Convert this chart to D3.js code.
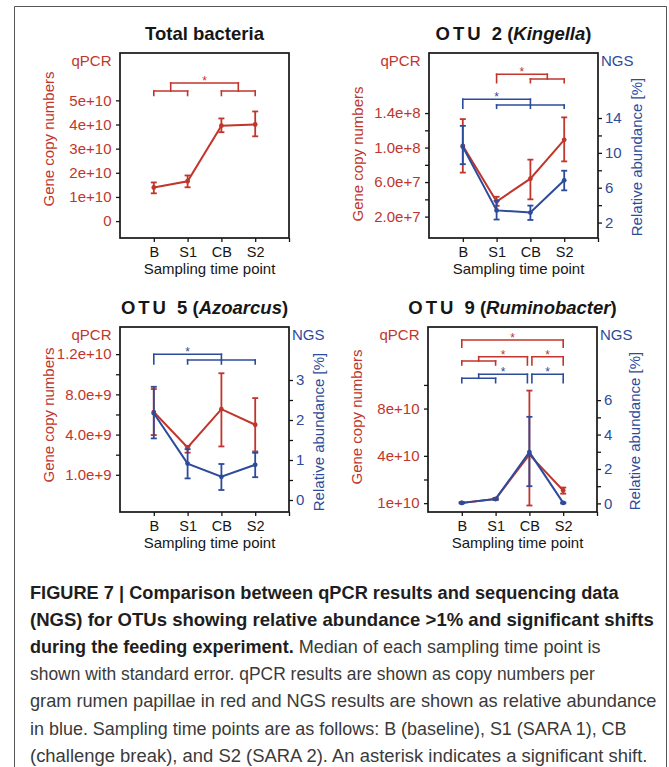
<!DOCTYPE html>
<html>
<head>
<meta charset="utf-8">
<script src="https://cdn.jsdelivr.net/npm/d3@7"></script>
<style>
  body { margin: 0; background: #fff; }
  svg { display: block; font-family: "Liberation Sans", Arial, sans-serif; }
</style>
</head>
<body>
<svg id="svg" width="669" height="767"></svg>
<script>
var timePoints = ["B", "S1", "CB", "S2"];

// Total bacteria (qPCR only)
var totalQpcr     = [1.39e10, 1.65e10, 3.95e10, 4.00e10];
var totalQpcrLow  = [1.15e10, 1.40e10, 3.68e10, 3.51e10];
var totalQpcrHigh = [1.60e10, 1.89e10, 4.25e10, 4.54e10];
var totalTicks      = [0, 1e10, 2e10, 3e10, 4e10, 5e10];
var totalTickLabels = ["0", "1e+10", "2e+10", "3e+10", "4e+10", "5e+10"];
var totalSig = [{left: [0, 1], right: [2, 3], series: "qpcr"}];

// OTU 2 (Kingella)
var otu2Qpcr     = [1.02e8, 3.75e7, 6.4e7, 1.09e8];
var otu2QpcrLow  = [7.1e7, 3.25e7, 4.0e7, 8.4e7];
var otu2QpcrHigh = [1.33e8, 4.3e7, 8.6e7, 1.35e8];
var otu2Ngs      = [10.7, 3.4, 3.15, 6.85];
var otu2NgsLow   = [8.7, 2.35, 2.3, 5.7];
var otu2NgsHigh  = [13.1, 4.5, 3.95, 7.95];
var otu2QpcrTicks  = [2e7, 6e7, 1e8, 1.4e8];
var otu2QpcrLabels = ["2.0e+7", "6.0e+7", "1.0e+8", "1.4e+8"];
var otu2NgsTicks   = [2, 6, 10, 14];
var otu2Sig = [
  {left: [1], right: [2, 3], series: "qpcr"},
  {left: [0], right: [1, 2, 3], series: "ngs"}
];

// OTU 5 (Azoarcus)
var otu5Qpcr     = [6.24e9, 2.72e9, 6.53e9, 4.98e9];
var otu5QpcrLow  = [3.95e9, 2.2e9, 2.82e9, 2.32e9];
var otu5QpcrHigh = [8.53e9, 2.88e9, 10.1e9, 7.63e9];
var otu5Ngs      = [2.17, 0.91, 0.58, 0.88];
var otu5NgsLow   = [1.54, 0.54, 0.25, 0.57];
var otu5NgsHigh  = [2.83, 1.27, 0.9, 1.18];
var otu5QpcrTicks  = [0, 4e9, 8e9, 1.2e10];
var otu5QpcrLabels = ["1.0e+9", "4.0e+9", "8.0e+9", "1.2e+10"];
var otu5NgsTicks   = [0, 1, 2, 3];
var otu5Sig = [{left: [0], right: [1, 2, 3], series: "ngs"}];

// OTU 9 (Ruminobacter)
var otu9Qpcr     = [0.02e10, 0.36e10, 4.1e10, 1.07e10];
var otu9QpcrLow  = [0.0, 0.3e10, -0.2e10, 0.8e10];
var otu9QpcrHigh = [0.06e10, 0.42e10, 9.52e10, 1.32e10];
var otu9Ngs      = [0.03, 0.25, 2.98, 0.03];
var otu9NgsLow   = [0.0, 0.2, 1.0, 0.0];
var otu9NgsHigh  = [0.07, 0.3, 5.03, 0.06];
var otu9QpcrTicks  = [0, 4e10, 8e10];
var otu9QpcrLabels = ["1e+10", "4e+10", "8e+10"];
var otu9NgsTicks   = [0, 2, 4, 6];
var otu9Sig = [
  {left: [0], right: [3], series: "qpcr"},
  {left: [0, 1], right: [2], series: "qpcr"},
  {left: [2], right: [3], series: "qpcr"},
  {left: [0, 1], right: [2], series: "ngs"},
  {left: [2], right: [3], series: "ngs"}
];

var red = "#c1362c", blue = "#2d4b9b", ink = "#161616";
var svg = d3.select("#svg");
var W = 169, H = 185;
var x = d3.scaleLinear().domain([0, 5]).range([0, W]);

// outer figure frame
svg.append("path")
  .attr("d", "M14.5,767V6.5H666.5V767")
  .attr("fill", "none").attr("stroke", "#555").attr("stroke-width", 1);

function styleAxis(ax, textColor, size) {
  ax.select(".domain").remove();
  ax.attr("font-size", size || 15).attr("font-family", null);
  ax.selectAll("line").attr("stroke", ink).attr("stroke-width", 1.3);
  ax.selectAll("text").attr("fill", textColor);
}

function drawSeries(g, yS, vals, lo, hi, color) {
  g.append("path").datum(vals)
    .attr("d", d3.line().x(function(d, i) { return x(i + 1); }).y(function(d) { return yS(d); }))
    .attr("fill", "none").attr("stroke", color).attr("stroke-width", 2);
  var e = g.append("g").attr("stroke", color).attr("stroke-width", 1.8);
  e.selectAll(".bar").data(vals).enter().append("line")
    .attr("x1", function(d, i) { return x(i + 1); })
    .attr("x2", function(d, i) { return x(i + 1); })
    .attr("y1", function(d, i) { return yS(lo[i]); })
    .attr("y2", function(d, i) { return yS(hi[i]); });
  [lo, hi].forEach(function(arr) {
    e.selectAll(null).data(arr).enter().append("line")
      .attr("x1", function(d, i) { return x(i + 1) - 3; })
      .attr("x2", function(d, i) { return x(i + 1) + 3; })
      .attr("y1", function(d) { return yS(d); })
      .attr("y2", function(d) { return yS(d); });
  });
  g.append("g").selectAll("circle").data(vals).enter().append("circle")
    .attr("cx", function(d, i) { return x(i + 1); })
    .attr("cy", function(d) { return yS(d); })
    .attr("r", 2.4).attr("fill", color);
}

function drawBrackets(g, comps, levels) {
  comps.forEach(function(c, k) {
    var L = levels[k];
    var color = c.series == "qpcr" ? red : blue;
    var bg = g.append("g").attr("stroke", color).attr("stroke-width", 1.6)
      .attr("fill", "none").attr("stroke-linecap", "square");
    function seg(x1, y1, x2, y2) {
      bg.append("line").attr("x1", x1).attr("y1", y1).attr("x2", x2).attr("y2", y2);
    }
    function side(idx, nudge) {
      var xs = idx.map(function(i) { return x(i + 1) + nudge; });
      if (xs.length == 1) { seg(xs[0], L.y0, xs[0], L.y2); return xs[0]; }
      var mid = (xs[0] + xs[xs.length - 1]) / 2;
      seg(mid, L.y0, mid, L.y1);
      seg(xs[0], L.y1, xs[xs.length - 1], L.y1);
      xs.forEach(function(xx) { seg(xx, L.y1, xx, L.y2); });
      return mid;
    }
    var a = side(c.left, L.nl || 0), b = side(c.right, L.nr || 0);
    seg(a, L.y0, b, L.y0);
    g.append("text").attr("x", (a + b) / 2).attr("y", L.y0 + 2)
      .attr("text-anchor", "middle").attr("font-size", 12).attr("fill", color).text("*");
  });
}

function drawPanel(p) {
  var g = svg.append("g").attr("transform", "translate(" + p.x + "," + p.y + ")");
  var yL = d3.scaleLinear().domain(p.qDomain).range([H, 0]);

  // title
  var t = g.append("text").attr("x", W / 2).attr("y", -13.5).attr("text-anchor", "middle")
    .attr("font-size", 18.5).attr("font-weight", "bold").attr("fill", ink);
  p.title.forEach(function(s) {
    t.append("tspan").text(s.text)
      .attr("font-style", s.italic ? "italic" : null)
      .attr("letter-spacing", s.ls || null);
  });

  // left axis
  g.append("g").call(d3.axisLeft(yL).tickValues(p.qTicks)
      .tickFormat(function(d, i) { return p.qLabels[i]; }).tickSize(4).tickPadding(4.5))
    .call(function(ax) { styleAxis(ax, red); });
  if (p.qMinor) {
    g.append("g").call(d3.axisLeft(yL).tickValues(p.qMinor).tickFormat("").tickSize(4))
      .call(function(ax) { styleAxis(ax, red); });
  }
  g.append("text").attr("x", -8.5).attr("y", 13).attr("text-anchor", "end")
    .attr("font-size", 15).attr("fill", red).text("qPCR");
  g.append("text")
    .attr("transform", "translate(-66.5," + p.lcy + ") rotate(-90)")
    .attr("text-anchor", "middle").attr("font-size", 15).attr("fill", red)
    .text("Gene copy numbers");

  // bottom axis
  g.append("g").attr("transform", "translate(0," + H + ")")
    .call(d3.axisBottom(x).tickValues([1, 2, 3, 4])
      .tickFormat(function(d) { return timePoints[d - 1]; }).tickSize(4).tickPadding(5))
    .call(function(ax) { styleAxis(ax, ink, 14.5); });
  g.append("g").attr("transform", "translate(0," + H + ")")
    .call(d3.axisBottom(x).tickValues([5]).tickFormat("").tickSize(4))
    .call(function(ax) { styleAxis(ax, ink); });
  g.append("text").attr("x", W / 2 + 5).attr("y", H + 35.5).attr("text-anchor", "middle")
    .attr("font-size", 15).attr("fill", ink).text("Sampling time point");

  var yR = null;
  if (p.nDomain) {
    yR = d3.scaleLinear().domain(p.nDomain).range([H, 0]);
    g.append("g").attr("transform", "translate(" + W + ",0)")
      .call(d3.axisRight(yR).tickValues(p.nTicks).tickFormat(d3.format("d")).tickSize(4).tickPadding(3))
      .call(function(ax) { styleAxis(ax, blue); });
    g.append("g").attr("transform", "translate(" + W + ",0)")
      .call(d3.axisRight(yR).tickValues(p.nMinor).tickFormat("").tickSize(4))
      .call(function(ax) { styleAxis(ax, blue); });
    g.append("text").attr("x", W + 3).attr("y", 13)
      .attr("font-size", 15).attr("fill", blue).text("NGS");
    g.append("text")
      .attr("transform", "translate(" + (W + p.rdx) + "," + p.rcy + ") rotate(-90)")
      .attr("text-anchor", "middle").attr("font-size", 15).attr("fill", blue)
      .text("Relative abundance [%]");
  }

  // frame
  g.append("rect").attr("width", W).attr("height", H)
    .attr("fill", "none").attr("stroke", ink).attr("stroke-width", 1.7);

  drawBrackets(g, p.sig, p.sigLevels);
  drawSeries(g, yL, p.q, p.qLo, p.qHi, red);
  if (yR) drawSeries(g, yR, p.n, p.nLo, p.nHi, blue);
}

drawPanel({
  x: 120, y: 53, title: [{text: "Total bacteria"}],
  qDomain: [-0.7e10, 6.96e10], qTicks: totalTicks, qLabels: totalTickLabels,
  q: totalQpcr, qLo: totalQpcrLow, qHi: totalQpcrHigh, lcy: 86,
  sig: totalSig, sigLevels: [{y0: 30, y1: 38, y2: 42.5}]
});

drawPanel({
  x: 429, y: 53,
  title: [{text: "OTU ", ls: 3}, {text: "2 ("}, {text: "Kingella", italic: true}, {text: ")"}],
  qDomain: [-0.48e7, 2.096e8], qTicks: otu2QpcrTicks, qLabels: otu2QpcrLabels, qMinor: [4e7, 8e7, 1.2e8],
  q: otu2Qpcr, qLo: otu2QpcrLow, qHi: otu2QpcrHigh, lcy: 101,
  nDomain: [0.23, 21.46], nTicks: otu2NgsTicks, nMinor: [4, 8, 12],
  n: otu2Ngs, nLo: otu2NgsLow, nHi: otu2NgsHigh, rdx: 44, rcy: 104,
  sig: otu2Sig,
  sigLevels: [{y0: 21.3, y1: 26, y2: 29.7}, {y0: 46.3, y1: 52, y2: 55.3}]
});

drawPanel({
  x: 120, y: 327,
  title: [{text: "OTU ", ls: 3}, {text: "5 ("}, {text: "Azoarcus", italic: true}, {text: ")"}],
  qDomain: [-3.7e9, 14.7e9], qTicks: otu5QpcrTicks, qLabels: otu5QpcrLabels, qMinor: [2e9, 6e9, 1e10],
  q: otu5Qpcr, qLo: otu5QpcrLow, qHi: otu5QpcrHigh, lcy: 88,
  nDomain: [-0.3, 4.325], nTicks: otu5NgsTicks, nMinor: [0.5, 1.5, 2.5],
  n: otu5Ngs, nLo: otu5NgsLow, nHi: otu5NgsHigh, rdx: 35, rcy: 105,
  sig: otu5Sig,
  sigLevels: [{y0: 27.3, y1: 33, y2: 37}]
});

drawPanel({
  x: 428, y: 327,
  title: [{text: "OTU ", ls: 3}, {text: "9 ("}, {text: "Ruminobacter", italic: true}, {text: ")"}],
  qDomain: [-0.75e10, 14.9e10], qTicks: otu9QpcrTicks, qLabels: otu9QpcrLabels, qMinor: [2e10, 1e11],
  q: otu9Qpcr, qLo: otu9QpcrLow, qHi: otu9QpcrHigh, lcy: 90,
  nDomain: [-0.5, 10.25], nTicks: otu9NgsTicks, nMinor: [1, 3, 5],
  n: otu9Ngs, nLo: otu9NgsLow, nHi: otu9NgsHigh, rdx: 43, rcy: 104,
  sig: otu9Sig,
  sigLevels: [
    {y0: 13, y1: 13, y2: 20.3},
    {y0: 29.7, y1: 34, y2: 38, nr: -2},
    {y0: 29.7, y1: 34, y2: 38, nl: 2.5},
    {y0: 47.3, y1: 51.3, y2: 55.7, nr: -2},
    {y0: 47.3, y1: 51.3, y2: 55.7, nl: 2.5}
  ]
});

// caption
var captionLines = [
  [["FIGURE 7 | Comparison between qPCR results and sequencing data", true]],
  [["(NGS) for OTUs showing relative abundance >1% and significant shifts", true]],
  [["during the feeding experiment.", true], [" Median of each sampling time point is", false]],
  [["shown with standard error. qPCR results are shown as copy numbers per", false]],
  [["gram rumen papillae in red and NGS results are shown as relative abundance", false]],
  [["in blue. Sampling time points are as follows: B (baseline), S1 (SARA 1), CB", false]],
  [["(challenge break), and S2 (SARA 2). An asterisk indicates a significant shift.", false]]
];
var captionRight = [619, 654, 601, 595, 657, 627, 648];
captionLines.forEach(function(parts, i) {
  var tx = svg.append("text").attr("font-size", 18.5);
  parts.forEach(function(pt) {
    tx.append("tspan").text(pt[0])
      .attr("font-weight", pt[1] ? "bold" : "normal")
      .attr("fill", pt[1] ? "#1e1e1e" : "#3a3a3a");
  });
  var len = tx.node().getComputedTextLength();
  var k = (captionRight[i] - 30) / len;
  tx.attr("transform", "translate(30," + (599 + i * 27.1) + ") scale(" + k + ",1)");
});
</script>
</body>
</html>
